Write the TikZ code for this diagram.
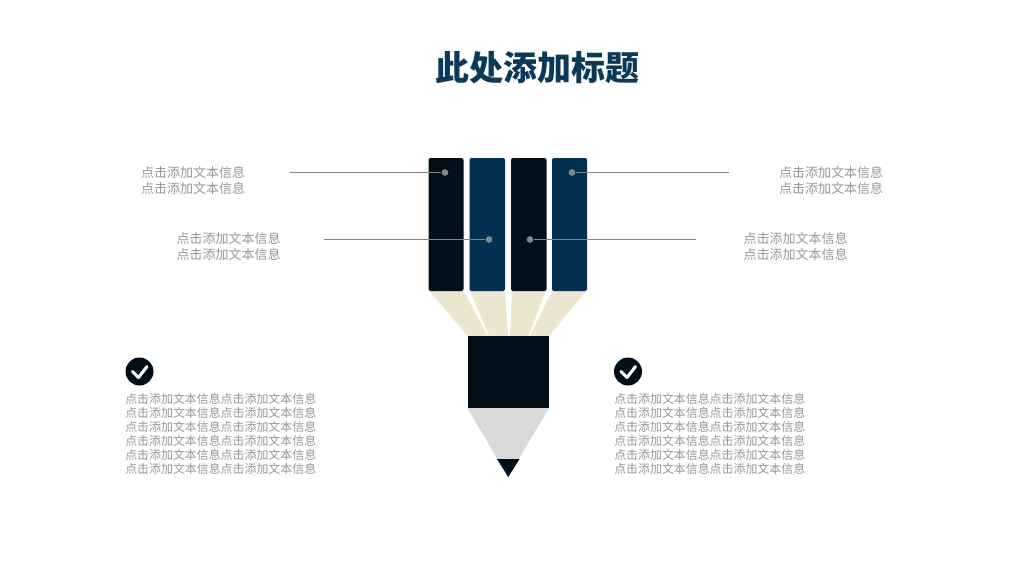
\documentclass[tikz,border=0pt]{standalone}
\usepackage{fontspec}
\setmainfont{Noto Sans CJK SC}
\definecolor{inkdark}{HTML}{020F18}
\definecolor{inkblue}{HTML}{023050}
\definecolor{woodcream}{HTML}{ECE5D0}
\definecolor{tipgray}{HTML}{D9D9D9}
\definecolor{titleblue}{HTML}{0B3A58}
\definecolor{txtgray}{HTML}{969696}
\definecolor{linegray}{HTML}{858585}
\definecolor{dotgray}{HTML}{7F8A90}
\tikzset{
  x=0.75pt,y=-0.75pt,
  bar/.style={rounded corners=1.5pt,draw=none},
  wood/.style={fill=woodcream,draw=none},
  label/.style={text=txtgray,align=center,inner sep=0pt,font=\fontsize{9.75}{12}\selectfont},
  para/.style={text=txtgray,align=left,inner sep=0pt,anchor=north west,font=\fontsize{8.95}{10.5}\selectfont},
  dot/.style={circle,fill=dotgray,inner sep=0pt,minimum size=5pt},
  leader/.style={draw=linegray,line width=0.6pt},
  checkdisc/.style={circle,fill=inkdark,inner sep=0pt,minimum size=21pt},
  checkmark/.style={draw=white,line width=2.3pt,line cap=round,line join=round}
}
\begin{document}
\begin{tikzpicture}
\useasboundingbox (0,0) rectangle (1024,576);
\fill[white] (0,0) rectangle (1024,576);
% title
\node[text=titleblue,inner sep=0pt,font=\fontsize{25.5}{30}\selectfont\bfseries] (title) at (537.5,67.5) {此处添加标题};
% wood fan
\fill[wood] (429.5,291) -- (463.5,291) -- (488,336) -- (467.5,336) -- cycle;
\fill[wood] (470,291) -- (505,291) -- (508,336) -- (489,336) -- cycle;
\fill[wood] (512,291) -- (545.5,291) -- (528.5,336) -- (510,336) -- cycle;
\fill[wood] (552,291) -- (586,291) -- (549,336) -- (530,336) -- cycle;
% bars
\fill[bar,inkdark] (428.5,158) rectangle (463.5,291);
\fill[bar,inkblue] (469.5,158) rectangle (505,291);
\fill[bar,inkdark] (511,158) rectangle (546.5,291);
\fill[bar,inkblue] (552,158) rectangle (587,291);
% pencil body
\fill[inkdark] (467.5,336) rectangle (549,408);
\fill[tipgray] (467.5,408) -- (549,408) -- (508,477) -- cycle;
\fill[inkdark] (497,459) -- (519.5,459) -- (508.3,477) -- cycle;
% dots
\node[dot] (d1) at (445,172.5) {};
\node[dot] (d2) at (572,172.5) {};
\node[dot] (d3) at (489,239.5) {};
\node[dot] (d4) at (530,239.5) {};
% leaders
\coordinate (e1) at (290,172.5);
\coordinate (e2) at (729,172.5);
\coordinate (e3) at (324,239.5);
\coordinate (e4) at (696,239.5);
\draw[leader] (e1) -- (d1);
\draw[leader] (e2) -- (d2);
\draw[leader] (e3) -- (d3);
\draw[leader] (e4) -- (d4);
% labels
\node[label] (l1) at (193,181) {点击添加文本信息\\点击添加文本信息};
\node[label] (l2) at (831,181) {点击添加文本信息\\点击添加文本信息};
\node[label] (l3) at (228.5,247) {点击添加文本信息\\点击添加文本信息};
\node[label] (l4) at (795.5,247) {点击添加文本信息\\点击添加文本信息};
% check icons
\node[checkdisc] (c1) at (139.5,371.5) {};
\node[checkdisc] (c2) at (628,371.5) {};
\draw[checkmark] (132.5,371.5) -- (138.5,377.5) -- (147,366.5);
\draw[checkmark] (621,371.5) -- (627,377.5) -- (635.5,366.5);
% paragraphs
\node[para] (p1) at (125,393.5) {点击添加文本信息点击添加文本信息\\点击添加文本信息点击添加文本信息\\点击添加文本信息点击添加文本信息\\点击添加文本信息点击添加文本信息\\点击添加文本信息点击添加文本信息\\点击添加文本信息点击添加文本信息};
\node[para] (p2) at (614,393.5) {点击添加文本信息点击添加文本信息\\点击添加文本信息点击添加文本信息\\点击添加文本信息点击添加文本信息\\点击添加文本信息点击添加文本信息\\点击添加文本信息点击添加文本信息\\点击添加文本信息点击添加文本信息};
\end{tikzpicture}
\end{document}
